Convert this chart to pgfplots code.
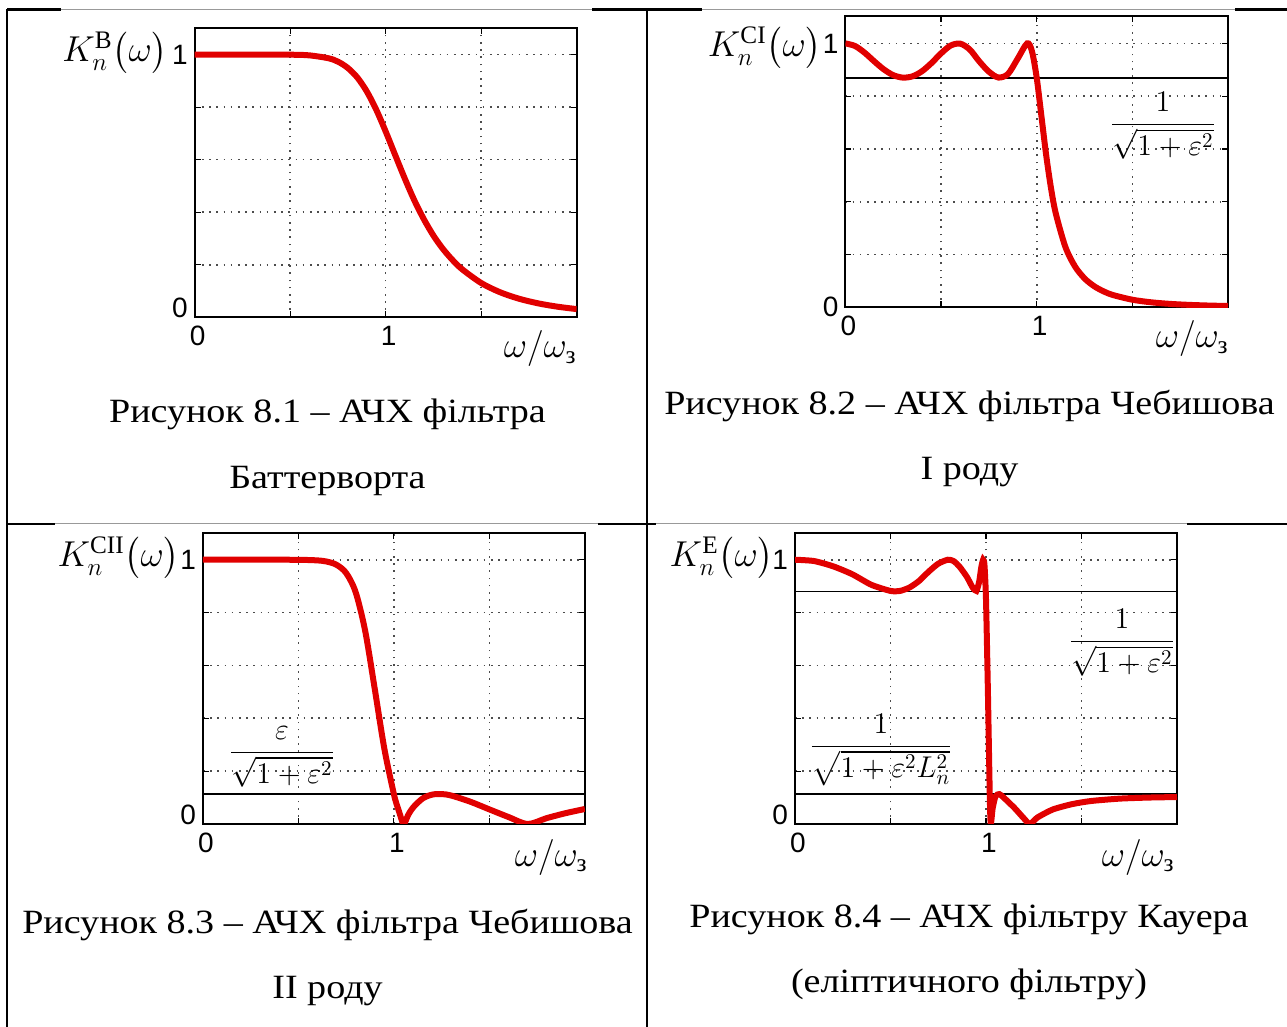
\RequirePackage{fix-cm}
\documentclass[border=0pt]{standalone}
\usepackage{amsmath}
\usepackage{fontspec}
\setmainfont{Liberation Serif}
\newfontfamily\capfont[FakeStretch=1.12]{Liberation Serif}
\newfontfamily\tickfont{Liberation Sans}
\usepackage{pgfplots}
\pgfplotsset{compat=1.18}
\definecolor{curve}{RGB}{225,0,0}
\pgfplotsset{
 filt/.style={
  scale only axis, anchor=north west,
  xmin=0,xmax=2,ymin=0,ymax=1.1,
  xtick={0,0.5,1,1.5,2}, xticklabels={0,,1,,},
  ytick={0,0.2,0.4,0.6,0.8,1},
  yticklabels={\raisebox{4.5pt}[\height][\depth]{0},,,,,1},
  grid=major, grid style={dash pattern=on 0.8pt off 2.8pt, black!70, line width=0.8pt},
  axis line style={line width=1pt},
  major tick length=3pt, tick style={line width=0.6pt, black},
  ticklabel style={font=\tickfont\fontsize{14}{16}\selectfont},
  xticklabel style={yshift=-1pt, xshift=1.5pt},
  every axis plot/.append style={line width=3pt, color=curve, mark=none},
 }
}
\begin{document}
\begin{tikzpicture}[x=0.5pt,y=-0.5pt]
\useasboundingbox (0,0) rectangle (1287,1027);
% table lines
\draw[line width=1.3pt] (7,9.5) -- (1287,9.5);
\draw[line width=1.3pt] (7,524) -- (1287,524);
\draw[white, line width=1.8pt] (61,9.5) -- (592,9.5) (702,9.5) -- (1235,9.5) (55,524) -- (598,524) (656,524) -- (1187,524);
\draw[black!40, line width=0.5pt] (61,9.5) -- (592,9.5) (702,9.5) -- (1235,9.5) (55,524) -- (598,524) (656,524) -- (1187,524);
\draw[line width=1.3pt] (7,9.5) -- (7,1027);
\draw[line width=1.3pt] (647,9.5) -- (647,1027);

% Plot 1: Butterworth
\begin{axis}[filt, at={(97.35pt,-14.15pt)}, width=191pt, height=144.5pt]
\addplot[smooth] coordinates {(0,1) (0.3,1) (0.5,0.9995) (0.6,0.997) (0.7,0.986) (0.75,0.973) (0.8,0.950) (0.85,0.914) (0.9,0.861) (0.95,0.791) (1.0,0.707) (1.05,0.617) (1.1,0.528) (1.15,0.445) (1.2,0.373) (1.25,0.311) (1.3,0.260) (1.35,0.218) (1.4,0.183) (1.5,0.1306) (1.6,0.095) (1.7,0.0703) (1.8,0.0528) (1.9,0.0403) (2.0,0.0312)};
\end{axis}

% Plot 2: Chebyshev I
\begin{axis}[filt, at={(422.7pt,-7.85pt)}, width=191.3pt, height=145.8pt, ymax=1.105, yticklabels={0,,,,,1}]
\addplot[black, line width=0.9pt] coordinates {(0,0.87) (2,0.87)};
\addplot[smooth] coordinates {(0,1) (0.05,0.9903) (0.1,0.965) (0.15,0.9325) (0.2,0.902) (0.25,0.8798) (0.3,0.8704) (0.35,0.8751) (0.4,0.8943) (0.45,0.9255) (0.5,0.9622) (0.55,0.9918) (0.6,0.9991) (0.65,0.9769) (0.7,0.9317) (0.75,0.8929) (0.8,0.8707) (0.85,0.8842) (0.9,0.9415) (0.95,0.99995) (0.975,0.9709) (1.0,0.87) (1.025,0.7223) (1.05,0.574) (1.075,0.4504) (1.1,0.355) (1.15,0.2287) (1.2,0.155) (1.25,0.1095) (1.3,0.0801) (1.35,0.0602) (1.4,0.0462) (1.5,0.0287) (1.6,0.0188) (1.7,0.0128) (1.8,0.0091) (1.9,0.0066) (2.0,0.0049)};
\end{axis}

% Plot 3: Chebyshev II
\begin{axis}[filt, at={(101.45pt,-266.65pt)}, width=191pt, height=145.35pt]
\addplot[black, line width=0.9pt] coordinates {(0,0.113) (2,0.113)};
\addplot[smooth] coordinates {(0,1) (0.3,1) (0.5,0.9997) (0.6,0.9974) (0.65,0.9928) (0.7,0.9806) (0.75,0.9497) (0.8,0.8766) (0.85,0.7293) (0.9,0.5101) (0.95,0.2849) (1.0,0.113) (1.02,0.0622) (1.03,0.0401) (1.051,0) (1.075,0.0344) (1.1,0.0621) (1.15,0.0964) (1.2,0.1111) (1.25,0.1133) (1.3,0.1077) (1.4,0.0844) (1.5,0.0552) (1.6,0.0264) (1.7013,0) (1.8,0.0222) (1.9,0.0411) (2.0,0.0568)};
\end{axis}

% Plot 4: Elliptic
\begin{axis}[filt, at={(397.5pt,-266.65pt)}, width=191pt, height=145.35pt]
\addplot[black, line width=0.9pt] coordinates {(0,0.88) (2,0.88)};
\addplot[black, line width=0.9pt] coordinates {(0,0.113) (2,0.113)};
\addplot[smooth, tension=0.4] coordinates {(0,1) (0.1,0.995) (0.2,0.975) (0.3,0.945) (0.4,0.905) (0.5,0.882) (0.55,0.882) (0.6,0.895) (0.65,0.92) (0.7,0.955) (0.75,0.985) (0.8,1.0) (0.83,0.995) (0.86,0.975) (0.9,0.935) (0.93,0.895) (0.95,0.882) (0.965,0.92) (0.975,0.97) (0.985,1.0) (0.992,0.98) (1.0,0.85) (1.01,0.5) (1.02,0.1) (1.025,0.0) (1.035,0.06) (1.05,0.105) (1.07,0.113) (1.1,0.095) (1.15,0.06) (1.2,0.02) (1.23,0.0) (1.27,0.025) (1.35,0.055) (1.45,0.075) (1.55,0.087) (1.7,0.096) (1.85,0.1) (2,0.102)};
\end{axis}

% y labels
\begin{scope}[every node/.style={font=\fontsize{18}{20}\selectfont, inner sep=0pt}]
\node[anchor=base east] at (168,62) {$K_n^{\mathrm{B}}\bigl(\omega\bigr)$};
\node[anchor=base east] at (822,57) {$K_n^{\mathrm{CI}}\bigl(\omega\bigr)$};
\node[anchor=base east] at (180,567) {$K_n^{\mathrm{CII}}\bigl(\omega\bigr)$};
\node[anchor=base east] at (774,567) {$K_n^{\mathrm{E}}\bigl(\omega\bigr)$};
\node[anchor=base east] at (577,358) {$\omega/\omega_{\text{з}}$};
\node[anchor=base east] at (1229,348) {$\omega/\omega_{\text{з}}$};
\node[anchor=base east] at (588,866) {$\omega/\omega_{\text{з}}$};
\node[anchor=base east] at (1175,866) {$\omega/\omega_{\text{з}}$};
\end{scope}
% fraction labels
\begin{scope}[every node/.style={font=\fontsize{15}{17}\selectfont, inner sep=0pt}]
\node at (1163,126) {$\displaystyle\frac{1}{\sqrt{1+\varepsilon^{2}}}$};
\node at (282,757) {$\displaystyle\frac{\varepsilon}{\sqrt{1+\varepsilon^{2}}}$};
\node at (1122,643) {$\displaystyle\frac{1}{\sqrt{1+\varepsilon^{2}}}$};
\node at (881,750) {$\displaystyle\frac{1}{\sqrt{1+\varepsilon^{2}L_n^{2}}}$};
\end{scope}
% captions
\begin{scope}[every node/.style={font=\capfont\fontsize{17}{20}\selectfont, inner sep=0pt, anchor=base}]
\node at (327.5,423) {Рисунок 8.1 – АЧХ фільтра};
\node at (327.5,488) {Баттерворта};
\node at (969.5,415) {Рисунок 8.2 – АЧХ фільтра Чебишова};
\node at (969.5,480) {I роду};
\node at (327.5,933) {Рисунок 8.3 – АЧХ фільтра Чебишова};
\node at (327.5,998) {II роду};
\node at (969,927) {Рисунок 8.4 – АЧХ фільтру Кауера};
\node at (969,992) {(еліптичного фільтру)};
\end{scope}
\end{tikzpicture}
\end{document}
